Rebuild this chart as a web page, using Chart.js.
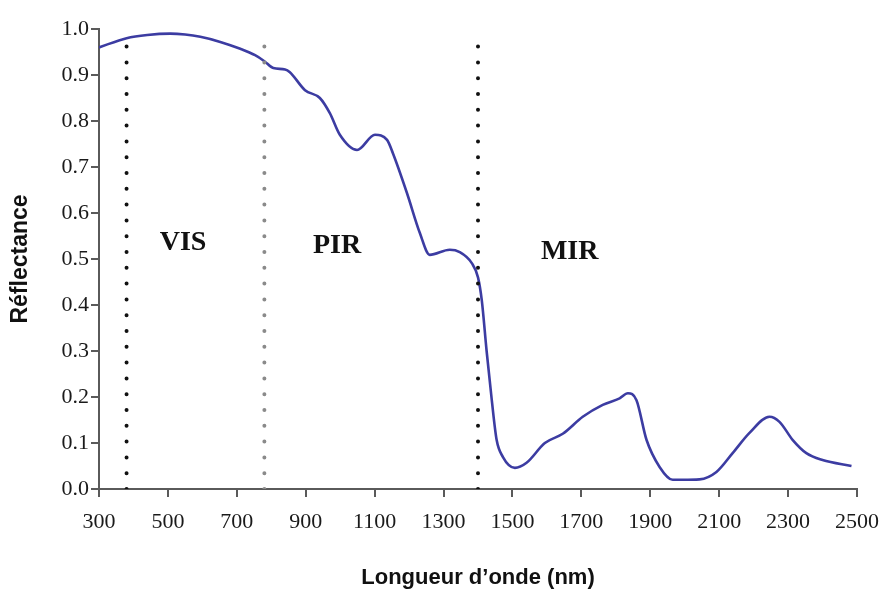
<!DOCTYPE html>
<html>
<head>
<meta charset="utf-8">
<script src="https://cdn.jsdelivr.net/npm/chart.js@4"></script>
<style>
  html, body { margin: 0; padding: 0; background: #fff; }
  #wrap { width: 881px; height: 592px; }
</style>
</head>
<body>
<div id="wrap"><canvas id="myChart"></canvas></div>
<script>
// spectral reflectance curve (wavelength in nm, reflectance 0..1)
const wavelengths = [300, 380, 440, 507, 550, 594, 652, 710, 753, 780, 806, 840, 854, 898, 941, 970, 999, 1049, 1101, 1136, 1153, 1194, 1231, 1260, 1318, 1347, 1382, 1400, 1411, 1425, 1440, 1454, 1472, 1507, 1541, 1594, 1646, 1704, 1762, 1811, 1835, 1860, 1889, 1927, 1965, 1994, 2043, 2092, 2139, 2188, 2246, 2275, 2313, 2353, 2400, 2484];
const reflectance = [0.96, 0.98, 0.987, 0.99, 0.988, 0.983, 0.972, 0.957, 0.943, 0.93, 0.915, 0.912, 0.906, 0.867, 0.85, 0.817, 0.77, 0.737, 0.77, 0.759, 0.73, 0.643, 0.557, 0.509, 0.52, 0.515, 0.491, 0.46, 0.41, 0.30, 0.193, 0.107, 0.07, 0.046, 0.057, 0.10, 0.12, 0.157, 0.183, 0.197, 0.208, 0.193, 0.107, 0.048, 0.02, 0.02, 0.021, 0.037, 0.078, 0.122, 0.157, 0.146, 0.107, 0.078, 0.063, 0.05];

// domain boundaries and their labels
const boundaries = [380, 780, 1400];
const boundaryColors = ["#111", "#8a8a8a", "#111"];
const boundaryTop = 0.985;
const regions = ["VIS", "PIR", "MIR"];
const regionX = [544, 991, 1666];
const regionY = [0.535, 0.528, 0.515];

const xTicks = [300, 500, 700, 900, 1100, 1300, 1500, 1700, 1900, 2100, 2300, 2500];

const curve = wavelengths.map((w, i) => ({ x: w, y: reflectance[i] }));

const datasets = boundaries.map((b, i) => ({
    data: [{ x: b, y: 0 }, { x: b, y: boundaryTop }],
    borderColor: boundaryColors[i],
    borderWidth: 4,
    borderDash: [0, 15.8],
    borderCapStyle: "round",
    pointRadius: 0,
    showLine: true
}));
datasets.push({
    data: curve,
    borderColor: "#3c3ca2",
    borderWidth: 2.6,
    pointRadius: 0,
    showLine: true,
    tension: 0.4,
    cubicInterpolationMode: "monotone"
});

const regionLabels = {
    id: "regionLabels",
    afterDatasetsDraw(chart) {
        const { ctx, scales } = chart;
        ctx.save();
        ctx.font = "bold 28px 'Liberation Serif'";
        ctx.fillStyle = "#111";
        ctx.textAlign = "center";
        ctx.textBaseline = "middle";
        regions.forEach((r, i) => {
            ctx.fillText(r, scales.x.getPixelForValue(regionX[i]), scales.y.getPixelForValue(regionY[i]));
        });
        ctx.restore();
    }
};

const tickFont = { family: "'Liberation Serif'", size: 22 };
const axisColor = "#5a5a5a";

new Chart(document.getElementById("myChart"), {
    type: "scatter",
    data: { datasets },
    options: {
        responsive: true,
        maintainAspectRatio: false,
        animation: false,
        layout: { padding: { top: 29, right: 0, left: 0, bottom: 0 } },
        plugins: { legend: { display: false }, tooltip: { enabled: false } },
        scales: {
            x: {
                type: "linear",
                min: 300,
                max: 2500,
                afterBuildTicks: (s) => { s.ticks = xTicks.map(v => ({ value: v })); },
                afterFit: (s) => { s.height = 103; s.paddingRight = 24; },
                border: { color: axisColor, width: 2 },
                grid: { drawOnChartArea: false, drawTicks: true, tickLength: 8, color: axisColor, lineWidth: 2 },
                ticks: {
                    font: tickFont,
                    color: "#1a1a1a",
                    padding: 12,
                    maxRotation: 0,
                    autoSkip: false,
                    callback: (v) => String(v)
                },
                title: {
                    display: true,
                    text: "Longueur d’onde (nm)",
                    font: { family: "'Liberation Sans'", size: 22, weight: "bold" },
                    color: "#111",
                    padding: { top: 0, bottom: 1 }
                }
            },
            y: {
                min: 0,
                max: 1,
                afterFit: (s) => { s.width = 99; },
                border: { color: axisColor, width: 2 },
                grid: { drawOnChartArea: false, drawTicks: true, tickLength: 8, color: axisColor, lineWidth: 2 },
                ticks: {
                    stepSize: 0.1,
                    font: tickFont,
                    color: "#1a1a1a",
                    padding: 2,
                    callback: (v) => v.toFixed(1)
                },
                title: {
                    display: true,
                    text: "Réflectance",
                    font: { family: "'Liberation Sans'", size: 23, weight: "bold" },
                    color: "#111",
                    padding: { top: 7, bottom: 0 }
                }
            }
        }
    },
    plugins: [regionLabels]
});
</script>
</body>
</html>
